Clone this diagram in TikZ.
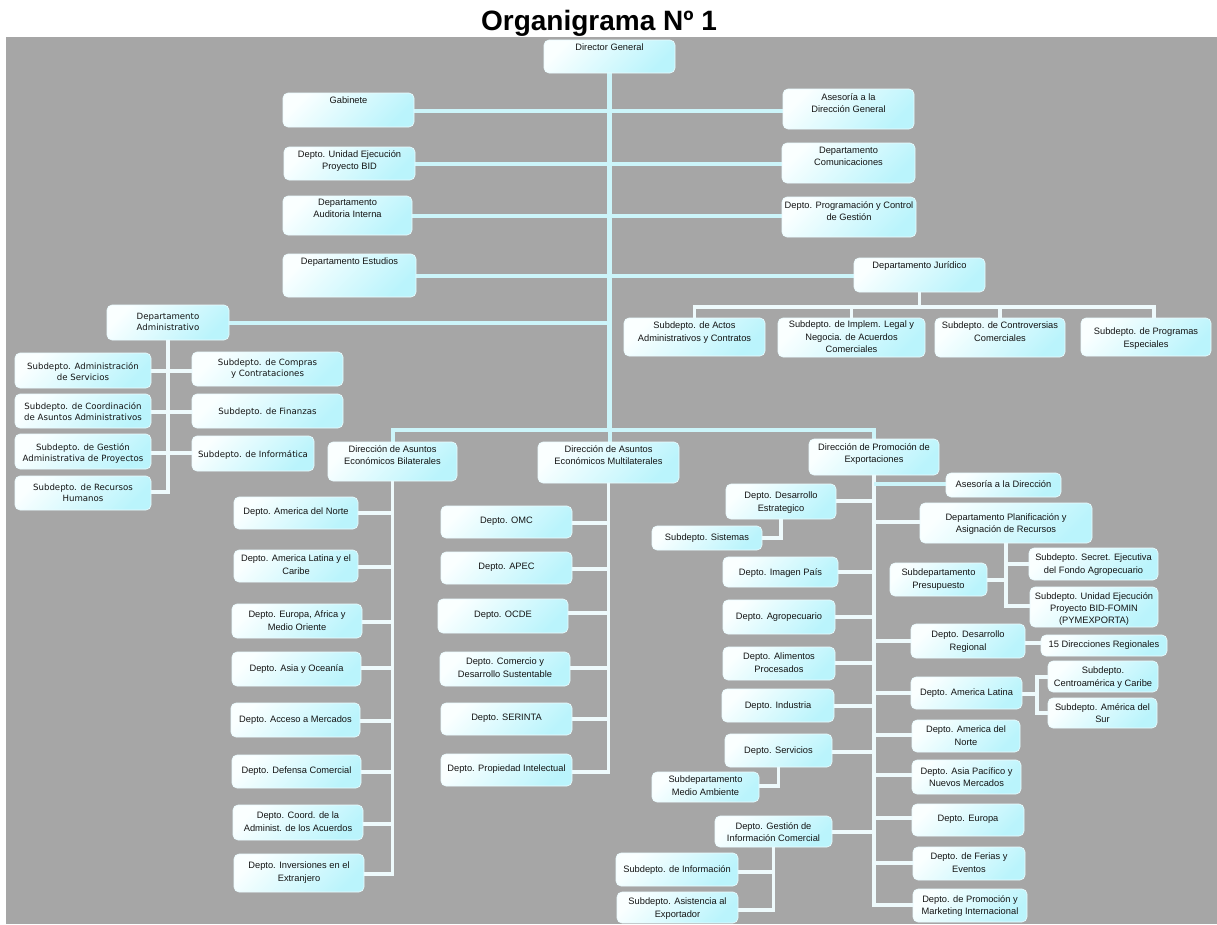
\documentclass[tikz,border=0pt]{standalone}
\usepackage{fontspec}
\setmainfont{Liberation Sans}
\newfontfamily\vfam{DejaVu Sans}
\pgfdeclarelayer{bg}
\pgfsetlayers{bg,main}
\definecolor{bggray}{RGB}{166,166,166}
\definecolor{lncyan}{RGB}{204,245,250}
\definecolor{lnwhite}{RGB}{238,250,252}
\definecolor{boxtop}{RGB}{250,255,255}
\definecolor{boxbot}{RGB}{186,244,252}
\definecolor{boxedge}{RGB}{235,252,255}
\tikzset{
 box/.style={draw=boxedge, line width=0.6pt, rounded corners=5pt, top color=boxtop, bottom color=boxbot, shading angle=45, inner sep=0pt, outer sep=0pt},
 txt/.style={font=\fontsize{9.3}{12.3}\selectfont, align=center, inner sep=0pt, anchor=north, text=black!92},
 vtxt/.style={font=\vfam\fontsize{8.6}{11}\selectfont},
 lc/.style={draw=lncyan, line width=4pt},
 lw/.style={draw=lnwhite, line width=3.6pt},
}
\newcommand\obox[8][]{%
 \node[box,minimum width={#5-#3},minimum height={#6-#4}] (#2) at ({(#3+#5)/2},{(#4+#6)/2}) {};
 \node[txt,#1] (#2t) at ({(#3+#5)/2},{#7-4}) {#8};}
\begin{document}
\begin{tikzpicture}[x=1pt,y=-1pt]
\useasboundingbox (0,0) rectangle (1217,924);
\begin{pgfonlayer}{bg}
\fill[white] (0,0) rectangle (1217,924);
\fill[bggray] (6,37) rectangle (1217,924);
\end{pgfonlayer}
\node[font=\bfseries\fontsize{28}{30}\selectfont, anchor=base, inner sep=0pt] (title) at (599,30) {Organigrama Nº 1};
% top level
\obox{dg}{544}{40}{675}{73}{48}{Director General}
\obox{gab}{283}{93}{414}{127}{101}{Gabinete}
\obox{ase}{783}{89}{914}{129}{97}{Asesoría a la\\Dirección General}
\obox{ueb}{284}{147}{415}{180}{154}{Depto. Unidad Ejecución\\Proyecto BID}
\obox{com}{782}{143}{915}{183}{151}{Departamento\\Comunicaciones}
\obox{aud}{283}{196}{412}{235}{203}{Departamento\\Auditoria Interna}
\obox{pcg}{782}{197}{916}{237}{205}{Depto. Programación y Control\\de Gestión}
\obox{est}{283}{254}{416}{297}{262}{Departamento Estudios}
\obox{jur}{854}{258}{985}{292}{265}{Departamento Jurídico}
\obox{act}{624}{318}{765}{356}{326}{Subdepto. de Actos\\Administrativos y Contratos}
\obox{imp}{778}{318}{925}{357}{325}{Subdepto. de Implem. Legal y\\Negocia. de Acuerdos\\Comerciales}
\obox{con}{935}{318}{1065}{357}{326}{Subdepto. de Controversias\\Comerciales}
\obox{pro}{1081}{318}{1211}{356}{332}{Subdepto. de Programas\\Especiales}
% administrativo
\obox[vtxt]{adm}{107}{305}{229}{340}{317}{Departamento\\Administrativo}
\obox[vtxt]{asv}{15}{353}{151}{388}{366}{Subdepto. Administración\\de Servicios}
\obox[vtxt]{aco}{15}{394}{151}{428}{406}{Subdepto. de Coordinación\\de Asuntos Administrativos}
\obox[vtxt]{age}{15}{434}{151}{469}{447}{Subdepto. de Gestión\\Administrativa de Proyectos}
\obox[vtxt]{arh}{15}{476}{151}{510}{488}{Subdepto. de Recursos\\Humanos}
\obox[vtxt]{acm}{192}{352}{343}{386}{363}{Subdepto. de Compras\\y Contrataciones}
\obox[vtxt]{afi}{192}{394}{343}{428}{412}{Subdepto. de Finanzas}
\obox[vtxt]{ain}{192}{436}{314}{471}{454}{Subdepto. de Informática}
% direcciones
\obox{bil}{328}{442}{457}{481}{449}{Dirección de Asuntos\\Económicos Bilaterales}
\obox{mul}{538}{442}{679}{483}{449}{Dirección de Asuntos\\Económicos Multilaterales}
\obox{pex}{809}{439}{939}{475}{447}{Dirección de Promoción de\\Exportaciones}
% bilaterales
\obox{b1}{234}{497}{358}{529}{512}{Depto. America del Norte}
\obox{b2}{234}{550}{358}{582}{559}{Depto. America Latina y el\\Caribe}
\obox{b3}{232}{604}{362}{638}{615}{Depto. Europa, Africa y\\Medio Oriente}
\obox{b4}{232}{652}{361}{686}{668}{Depto. Asia y Oceanía}
\obox{b5}{231}{703}{360}{737}{720}{Depto. Acceso a Mercados}
\obox{b6}{232}{755}{361}{788}{771}{Depto. Defensa Comercial}
\obox{b7}{233}{805}{363}{840}{816}{Depto. Coord. de la\\Administ. de los Acuerdos}
\obox{b8}{234}{854}{364}{892}{866}{Depto. Inversiones en el\\Extranjero}
% multilaterales
\obox{m1}{441}{506}{572}{538}{521}{Depto. OMC}
\obox{m2}{441}{552}{572}{584}{567}{Depto. APEC}
\obox{m3}{438}{599}{568}{633}{615}{Depto. OCDE}
\obox{m4}{440}{652}{570}{686}{662}{Depto. Comercio y\\Desarrollo Sustentable}
\obox{m5}{441}{703}{572}{735}{718}{Depto. SERINTA}
\obox{m6}{441}{754}{572}{786}{769}{Depto. Propiedad Intelectual}
% promocion
\obox{pas}{946}{473}{1061}{497}{484}{Asesoría a la Dirección}
\obox{pde}{726}{484}{836}{519}{496}{Depto. Desarrollo\\Estrategico}
\obox{psi}{652}{526}{762}{550}{538}{Subdepto. Sistemas}
\obox{ppl}{920}{503}{1092}{543}{517}{Departamento Planificación y\\Asignación de Recursos}
\obox{pse}{1029}{548}{1158}{580}{558}{Subdepto. Secret. Ejecutiva\\del Fondo Agropecuario}
\obox{pbf}{1030}{587}{1158}{627}{596}{Subdepto. Unidad Ejecución\\Proyecto BID-FOMIN\\(PYMEXPORTA)}
\obox{ppr}{890}{563}{987}{596}{573}{Subdepartamento\\Presupuesto}
\obox{pim}{723}{557}{838}{587}{572}{Depto. Imagen País}
\obox{pag}{723}{600}{835}{634}{617}{Depto. Agropecuario}
\obox{pdr}{911}{624}{1025}{658}{635}{Depto. Desarrollo\\Regional}
\obox{pqr}{1041}{635}{1167}{656}{645}{15 Direcciones Regionales}
\obox{pal}{723}{647}{835}{680}{657}{Depto. Alimentos\\Procesados}
\obox{pla}{911}{677}{1022}{709}{693}{Depto. America Latina}
\obox{pca}{1048}{661}{1158}{692}{671}{Subdepto.\\Centroamérica y Caribe}
\obox{psu}{1048}{698}{1157}{728}{707}{Subdepto. América del\\Sur}
\obox{pin}{722}{689}{834}{722}{706}{Depto. Industria}
\obox{pan}{912}{720}{1020}{752}{730}{Depto. America del\\Norte}
\obox{psv}{725}{734}{832}{767}{751}{Depto. Servicios}
\obox{pma}{652}{772}{759}{802}{780}{Subdepartamento\\Medio Ambiente}
\obox{pap}{912}{760}{1021}{794}{771}{Depto. Asia Pacífico y\\Nuevos Mercados}
\obox{peu}{912}{804}{1024}{836}{819}{Depto. Europa}
\obox{pgi}{715}{816}{832}{847}{826}{Depto. Gestión de\\Información Comercial}
\obox{pinf}{616}{853}{738}{886}{869}{Subdepto. de Información}
\obox{pasi}{617}{892}{738}{923}{902}{Subdepto. Asistencia al\\Exportador}
\obox{pfe}{913}{847}{1025}{880}{857}{Depto. de Ferias y\\Eventos}
\obox{pmk}{913}{889}{1027}{922}{899}{Depto. de Promoción y\\Marketing Internacional}
% connectors
\begin{pgfonlayer}{bg}
\coordinate (tb) at (609.5,430);
\draw[lc,line width=4.5pt] (dg.south) -- (tb);
\draw[lc] (gab.east |- 0,110.5) -- (ase.west |- 0,110.5);
\draw[lc] (ueb.east |- 0,164) -- (com.west |- 0,164);
\draw[lc] (aud.east |- 0,216) -- (pcg.west |- 0,216);
\draw[lc] (est.east |- 0,276) -- (jur.west |- 0,276);
\draw[lc] (adm.east |- 0,323) -- (tb |- 0,323);
\draw[lc] (bil.north) |- (tb) -| (pex.north);
\draw[lc] (tb) -- (tb |- mul.north);
% juridico
\coordinate (jb) at (919.5,307);
\draw[lw] (jur.south) -- (jb);
\draw[lw] (act.north) |- (jb) -| ([xshift=8pt]pro.north);
\draw[lw] (imp.north) -- (imp.north |- jb);
\draw[lw] (con.north) -- (con.north |- jb);
% administrativo
\draw[lw] (adm.south) |- (arh.east |- 0,492);
\draw[lw] (asv.east |- 0,371) -- (acm.west |- 0,371);
\draw[lw] (aco.east |- 0,412) -- (afi.west |- 0,412);
\draw[lw] (age.east |- 0,453) -- (ain.west |- 0,453);
% bilaterales
\draw[lw] (bil.south) |- (b8.east |- 0,874);
\draw[lw] (b1.east |- 0,513) -- (bil.south |- 0,513);
\draw[lw] (b2.east |- 0,567) -- (bil.south |- 0,567);
\draw[lw] (b3.east |- 0,622) -- (bil.south |- 0,622);
\draw[lw] (b4.east |- 0,668) -- (bil.south |- 0,668);
\draw[lw] (b5.east |- 0,721) -- (bil.south |- 0,721);
\draw[lw] (b6.east |- 0,772) -- (bil.south |- 0,772);
\draw[lw] (b7.east |- 0,824) -- (bil.south |- 0,824);
% multilaterales
\draw[lw] (mul.south) |- (m6.east |- 0,772);
\draw[lw] (m1.east |- 0,523) -- (mul.south |- 0,523);
\draw[lw] (m2.east |- 0,569) -- (mul.south |- 0,569);
\draw[lw] (m3.east |- 0,613) -- (mul.south |- 0,613);
\draw[lw] (m4.east |- 0,668) -- (mul.south |- 0,668);
\draw[lw] (m5.east |- 0,719) -- (mul.south |- 0,719);
% promocion
\draw[lw] (pex.south) |- (pmk.west |- 0,905);
\draw[lc] (pex.south |- 0,484) -- (pas.west |- 0,484);
\draw[lw] (pde.east |- 0,501) -- (pex.south |- 0,501);
\draw[lw] (pde.south) |- (psi.east);
\draw[lw] (ppl.west |- 0,522) -- (pex.south |- 0,522);
\draw[lw] (ppl.south) |- (pbf.west |- 0,606);
\draw[lw] (ppl.south |- 0,564) -- (pse.west |- 0,564);
\draw[lw] (ppl.south |- 0,580) -- (ppr.east |- 0,580);
\draw[lw] (pim.east |- 0,572) -- (pex.south |- 0,572);
\draw[lw] (pag.east |- 0,617) -- (pex.south |- 0,617);
\draw[lw] (pdr.west |- 0,641) -- (pex.south |- 0,641);
\draw[lw] (pdr.east |- 0,643) -- (pqr.west |- 0,643);
\draw[lw] (pal.east |- 0,663) -- (pex.south |- 0,663);
\draw[lw] (pla.west |- 0,693) -- (pex.south |- 0,693);
\coordinate (lv) at (1037,694);
\draw[lw] (pla.east |- lv) -- (lv);
\draw[lw] (pca.west |- 0,677) -| (lv |- 0,713) -- (psu.west |- 0,713);
\draw[lw] (pin.east |- 0,706) -- (pex.south |- 0,706);
\draw[lw] (pan.west |- 0,735) -- (pex.south |- 0,735);
\draw[lw] (psv.east |- 0,752) -- (pex.south |- 0,752);
\draw[lw] (psv.south) |- (pma.east |- 0,786);
\draw[lw] (pap.west |- 0,775) -- (pex.south |- 0,775);
\draw[lw] (peu.west |- 0,818) -- (pex.south |- 0,818);
\draw[lw] (pgi.east |- 0,832) -- (pex.south |- 0,832);
\draw[lw] (pgi.south) |- (pasi.east |- 0,910);
\draw[lw] (pinf.east |- 0,872) -- (pgi.south |- 0,872);
\draw[lw] (pfe.west |- 0,863) -- (pex.south |- 0,863);
\end{pgfonlayer}
\end{tikzpicture}
\end{document}
